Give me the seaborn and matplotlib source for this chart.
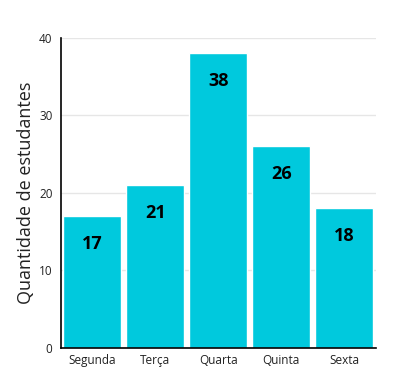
import pandas as pd
import seaborn as sns
import matplotlib.pyplot as plt

# Data
dias = ['Segunda', 'Terça', 'Quarta', 'Quinta', 'Sexta']
estudantes = [17, 21, 38, 26, 18]

df = pd.DataFrame({'dia': dias, 'estudantes': estudantes})

sns.set_theme(style="white")
plt.rcParams['font.family'] = ['Open Sans', 'DejaVu Sans']

fig = plt.figure(figsize=(4.09, 3.71), dpi=100)
ax = fig.add_axes([0.149, 0.062, 0.770, 0.836])

sns.barplot(data=df, x='dia', y='estudantes', color='#00C9DD', saturation=1,
            width=0.92, ax=ax, zorder=2)

# value labels inside the top of each bar
for patch, val in zip(ax.patches, estudantes):
    ax.annotate(str(val), (patch.get_x() + patch.get_width() / 2, patch.get_height()),
                xytext=(0, -20), textcoords='offset points', ha='center', va='center',
                fontsize=13, fontweight='bold', color='black')

ax.set_ylim(0, 40)
ax.set_xlim(-0.5, 4.5)
ax.set_yticks([0, 10, 20, 30, 40])
ax.yaxis.grid(True, color='#e6e6e6', linewidth=1, zorder=0)
ax.set_axisbelow(True)

ax.set_xlabel('')
ax.set_ylabel('Quantidade de estudantes', fontsize=13, color='#222222', labelpad=3)
ax.tick_params(axis='x', labelsize=8.5, length=0, pad=4, colors='#222222')
ax.tick_params(axis='y', labelsize=8.5, length=0, pad=6, colors='#222222')

for s in ['top', 'right']:
    ax.spines[s].set_visible(False)
ax.spines['left'].set_color('black')
ax.spines['bottom'].set_color('black')
ax.spines['left'].set_linewidth(1.2)
ax.spines['bottom'].set_linewidth(1.2)

fig.savefig('out.png', dpi=100)
